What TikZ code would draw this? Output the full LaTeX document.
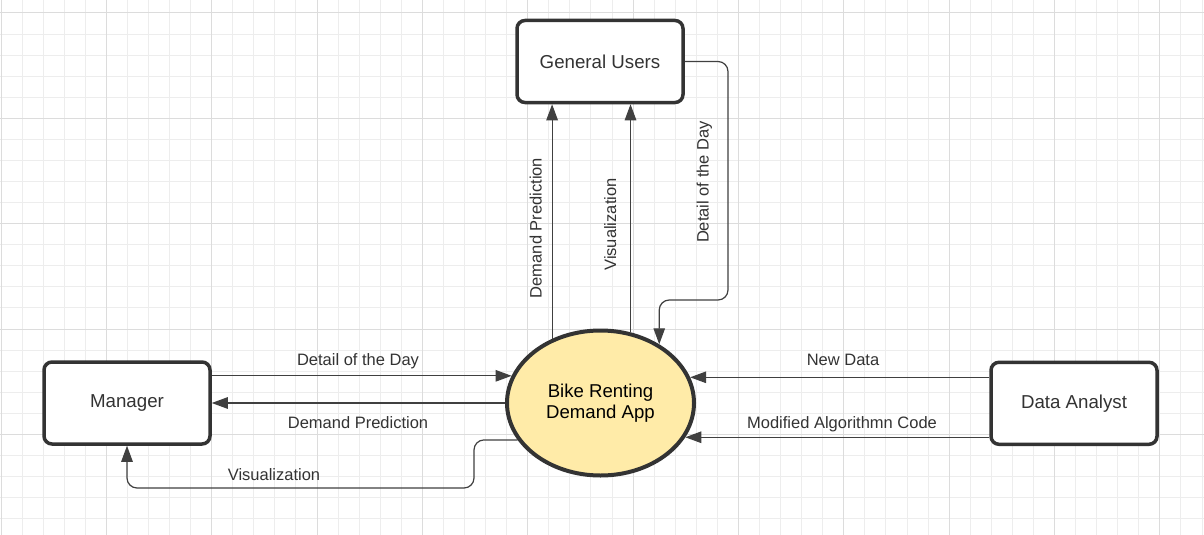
\documentclass[tikz,border=0pt]{standalone}
\usepackage{fontspec}
\setmainfont{Liberation Sans}
\usetikzlibrary{arrows.meta,shapes.geometric}
\definecolor{ink}{HTML}{333333}
\definecolor{gridminor}{HTML}{EDEDED}
\definecolor{gridmajor}{HTML}{DCDCDC}
\definecolor{appfill}{HTML}{FFEBA8}
\definecolor{wire}{HTML}{404040}
\tikzset{
  entity/.style={draw=ink, line width=3.5pt, rounded corners=8pt, fill=white,
    minimum width=166pt, minimum height=82pt, inner sep=0pt, text=ink,
    font=\fontsize{18.7}{22}\selectfont},
  process/.style={ellipse, draw=ink, line width=4pt, fill=appfill,
    minimum width=187pt, minimum height=145pt, inner sep=0pt, text=black,
    align=center, font=\fontsize{18.6}{21.5}\selectfont},
  flow/.style={draw=wire, line width=1.2pt, -{Triangle[length=16pt,width=11.5pt]}},
  bentflow/.style={flow, rounded corners=10pt},
  flowlabel/.style={text=ink, anchor=base, inner sep=0pt,
    font=\fontsize{16.5}{19}\selectfont},
}
\begin{document}
\begin{tikzpicture}[x=1pt,y=-1pt]
\useasboundingbox (0,0) rectangle (1204,535);
\fill[white] (0,0) rectangle (1204,535);
% grid
\foreach \i in {0,...,57} \draw[gridminor, line width=1pt] ({1+21.07*\i},0) -- ({1+21.07*\i},535);
\foreach \j in {-1,...,25} \draw[gridminor, line width=1pt] (0,{13+21.07*\j}) -- (1204,{13+21.07*\j});
\foreach \i in {0,...,11} \draw[gridmajor, line width=1pt] ({1+105.35*\i},0) -- ({1+105.35*\i},535);
\foreach \j in {0,...,5} \draw[gridmajor, line width=1pt] (0,{13+105.35*\j}) -- (1204,{13+105.35*\j});

% nodes
\node[entity] (users) at (600,61.5) {General Users};
\node[entity] (manager) at (127,403) {Manager};
\node[entity] (analyst) at (1074,403.3) {Data Analyst};
\node[process] (app) at (600.5,403) {Bike Renting\\Demand App};

% helper corners
\coordinate (vizcorner) at (474,488);
\coordinate (daycorner) at (728,300);

% Manager flows
\draw[flow] (app.163 -| manager.east) -- (app.163);
\draw[flow] (app.west) -- (app.west -| manager.east);
\draw[bentflow] (app.204) -| (vizcorner) -| (manager.south);

% Analyst flows
\draw[flow] (app.16 -| analyst.west) -- (app.16);
\draw[flow] (app.-22 -| analyst.west) -- (app.-22);

% User flows
\draw[flow] (app.127) -- (app.127 |- users.south);
\draw[flow] (app.67) -- (app.67 |- users.south);
\draw[bentflow] (users.east) -| (daycorner) -| (app.45);

% labels
\node[flowlabel] (l1) at (358,365) {Detail of the Day};
\node[flowlabel] (l2) at (358,428.5) {Demand Prediction};
\node[flowlabel] (l3) at (274,480) {Visualization};
\node[flowlabel] (l4) at (843,365.5) {New Data};
\node[flowlabel] (l5) at (842,428.5) {Modified Algorithmn Code};
\node[flowlabel, rotate=90] (l6) at (541.5,228) {Demand Prediction};
\node[flowlabel, rotate=90] (l7) at (616,224.5) {Visualization};
\node[flowlabel, rotate=90] (l8) at (708.5,182) {Detail of the Day};
\end{tikzpicture}
\end{document}
